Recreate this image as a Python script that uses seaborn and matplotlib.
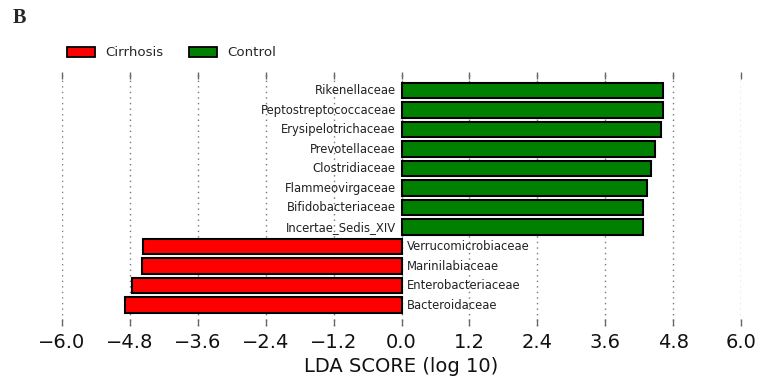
import matplotlib
matplotlib.use("Agg")
import matplotlib.pyplot as plt
from matplotlib.patches import Patch
import seaborn as sns
import pandas as pd

names = ["Rikenellaceae", "Peptostreptococcaceae", "Erysipelotrichaceae",
         "Prevotellaceae", "Clostridiaceae", "Flammeovirgaceae",
         "Bifidobacteriaceae", "Incertae_Sedis_XIV",
         "Verrucomicrobiaceae", "Marinilabiaceae", "Enterobacteriaceae",
         "Bacteroidaceae"]
lda = [4.63, 4.62, 4.58, 4.48, 4.41, 4.34, 4.26, 4.26,
       -4.57, -4.59, -4.76, -4.88]
groups = ["Control"] * 8 + ["Cirrhosis"] * 4
xticks = [-6.0, -4.8, -3.6, -2.4, -1.2, 0.0, 1.2, 2.4, 3.6, 4.8, 6.0]
palette = {"Cirrhosis": "#FF0000", "Control": "#008000"}

df = pd.DataFrame({"name": names, "lda": lda, "cls": groups})

sns.set_style("white")
plt.rcParams["font.family"] = ["DejaVu Sans"]

fig = plt.figure(figsize=(7.6, 3.88), dpi=100)
ax = fig.add_axes([0.0816, 0.1606, 0.8934, 0.6546])

sns.barplot(data=df, x="lda", y="name", hue="cls", palette=palette,
            order=names, dodge=False, width=0.8, edgecolor="black",
            linewidth=1.5, errorbar=None, legend=False, ax=ax, zorder=3,
            saturation=1)

ax.set_xlim(-6.0, 6.0)
ax.set_ylim(12.06, -0.975)
ax.set_xticks(xticks)
ax.set_xticklabels([f"{t:.1f}".replace("-", "\u2212") for t in xticks],
                   fontsize=14, color="#111111")
ax.set_yticks([])
ax.set_ylabel("")
ax.set_xlabel("LDA SCORE (log 10)", fontsize=14, labelpad=4,
              color="#111111")
for s in ax.spines.values():
    s.set_visible(False)
ax.tick_params(axis="x", direction="in", top=True, bottom=True, length=5,
               width=1, color="#666666", pad=5)
ax.xaxis.grid(True, linestyle=(0, (1, 3)), color="#777777", linewidth=1,
              zorder=0)
ax.set_axisbelow(True)

for i, (n, v) in enumerate(zip(names, lda)):
    if v > 0:
        ax.text(-0.1, i, n, ha="right", va="center", fontsize=8.4,
                color="#222222")
    else:
        ax.text(0.1, i, n, ha="left", va="center", fontsize=8.4,
                color="#222222")

handles = [Patch(facecolor=palette["Cirrhosis"], edgecolor="black",
                 linewidth=1.3, label="Cirrhosis"),
           Patch(facecolor=palette["Control"], edgecolor="black",
                 linewidth=1.3, label="Control")]
fig.legend(handles=handles, loc="center left", bbox_to_anchor=(0.072, 0.864),
           ncol=2, frameon=False, fontsize=9.6, handlelength=2.1,
           handleheight=0.8, handletextpad=0.8, columnspacing=1.9)

fig.text(0.0167, 0.953, "B", fontsize=14.5, fontweight="bold",
         family="Liberation Serif", va="center", ha="left")

fig.savefig("out.png", dpi=100)
